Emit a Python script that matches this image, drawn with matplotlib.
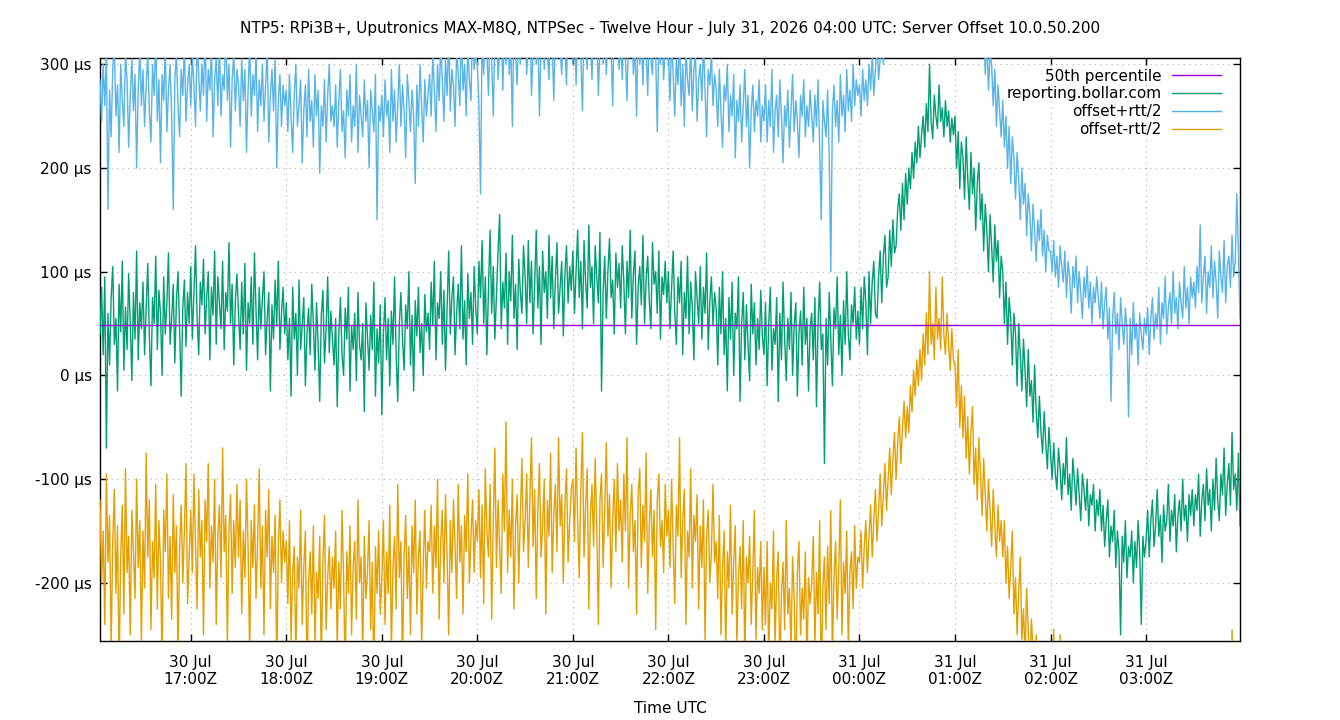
import numpy as np
import pandas as pd
import matplotlib
matplotlib.use("Agg")
import matplotlib.pyplot as plt
import matplotlib.dates as mdates

# one sample per minute from 16:03, one row per half hour
start_time = "2026-07-30 16:03"
percentile_50 = 49

offset = [
    40, 85, 20, 95, -70, 60, 10, 75, 105, 30, 55, -15, 88, 42, 110, 5, 66, 25, 98, 50, -5, 80, 35, 120, 15, 70, 45,
    90, 20, 65, 108, 38, -10, 75, 50, 115, 25, 82, 60, 0, 95, 40, 70, 118, 30, 55, 88, 12, 72, 100, 45, -20, 65, 92, 28, 80, 50,
    105, 35, 80, 125, 55, 20, 90, 68, 112, 40, 75, 100, 15, 85, 58, 120, 30, 95, 70, 45, 110, 25, 80, 62, 128, 50, 88, 10, 72, 98,
    60, 25, 90, 40, 108, 5, 70, 50, 95, 30, 118, 62, 15, 85, 45, 75, 100, 20, 55, 80, -15, 68, 35, 92, 48, 110, 25, 60, 85, 40,
    70, 15, 55, -20, 85, 35, 60, 0, 92, 25, 48, 75, -10, 40, 65, 20, 88, 50, 5, 70, 30, -25, 58, 82, 12, 45, 95, 22, 62, 35,
    10, 55, -30, 40, 75, 20, 0, 65, 35, 85, -15, 48, 25, 60, -5, 80, 30, 15, 50, -35, 70, 38, 5, 58, 25, 90, -20, 45, 12, 68,
    -38, 40, 75, 15, 55, -10, 62, 30, 95, 20, -25, 50, 80, 35, 5, 68, 45, 100, 10, 58, -15, 72, 38, 85, 22, 50, 0, 78, 42, 60,
    25, 90, 48, 110, 15, 70, 55, 100, 30, 82, 5, 65, 120, 40, 75, 95, 20, 60, 88, 45, 125, 35, 72, 10, 98, 55, 80, 30, 105, 65,
    40, 110, 75, 130, 50, 95, 20, 85, 140, 60, 105, 35, 78, 120, 155, 45, 90, 65, 118, 30, 100, 72, 135, 55, 88, 25, 112, 80, 60, 125,
    95, 50, 130, 70, 110, 40, 88, 140, 65, 105, 30, 120, 80, 100, 55, 135, 75, 115, 45, 92, 128, 60, 85, 110, 38, 98, 125, 70, 105, 82,
    120, 60, 100, 140, 75, 110, 45, 130, 90, 65, 145, 85, 105, 50, 125, 95, 70, 138, -15, 80, 115, 55, 100, 132, 75, 92, 40, 118, 85, 108,
    65, 125, 90, 40, 110, 75, 140, 55, 98, 120, 30, 85, 105, 68, 135, 50, 92, 115, 72, 45, 128, 88, 100, 60, 120, 35, 95, 78, 110, 70,
    100, 45, 85, 120, 60, 30, 95, 70, 110, 20, 80, 55, 115, 40, 90, 65, 15, 100, 75, 50, 105, 35, 85, 60, 118, 25, 72, 95, 48, 80,
    65, 10, 85, 40, 100, 20, 55, -15, 75, 35, 90, 0, 60, 45, 95, -25, 50, 80, 15, 68, 30, -5, 88, 40, 70, 10, 55, 25, 82, 38,
    20, 70, -10, 50, 85, 5, 45, 30, 75, -25, 60, 15, 90, 35, -5, 55, 25, 80, 0, 48, 70, -20, 40, 62, 10, 85, 30, 55, -15, 45,
    60, 15, 75, -30, 50, 90, 25, 40, -85, 55, 10, 80, 35, -10, 65, 45, 95, 20, 58, 0, 72, 30, 100, 40, 15, 68, 50, 85, 35, 62,
    30, 85, 45, 95, 70, 20, 100, 50, 90, 110, 60, 55, 95, 120, 70, 115, 135, 85, 95, 140, 105, 150, 118, 125, 160, 175, 140, 185, 150, 195,
    165, 200, 180, 215, 190, 225, 205, 240, 210, 232, 250, 220, 262, 235, 300, 245, 228, 270, 250, 238, 280, 245, 258, 230, 265, 240, 255, 225, 248, 232,
    250, 200, 235, 180, 225, 210, 170, 230, 190, 160, 215, 175, 200, 140, 185, 205, 150, 175, 120, 165, 140, 100, 155, 125, 90, 145, 110, 130, 75, 115,
    100, 50, 90, 30, 75, 55, 10, 60, 40, -10, 50, 20, -15, 35, 5, -30, 25, -20, -5, -45, 10, -35, -60, -20, -55, -75, -35, -65, -90, -50,
    -75, -100, -65, -95, -110, -70, -90, -120, -85, -105, -60, -115, -95, -130, -80, -100, -125, -90, -115, -140, -95, -110, -130, -100, -145, -115, -125, -105, -150, -120,
    -135, -110, -150, -125, -165, -140, -120, -175, -145, -160, -130, -185, -150, -170, -250, -155, -180, -140, -195, -165, -175, -150, -200, -160, -185, -140, -170, -240, -155, -175,
    -160, -130, -175, -140, -120, -165, -145, -110, -155, -135, -180, -125, -150, -140, -105, -160, -130, -145, -115, -170, -135, -120, -150, -100, -140, -125, -160, -115, -135, -110,
    -145, -115, -130, -95, -155, -120, -105, -140, -90, -125, -110, -150, -100, -130, -80, -120, -140, -95, -115, -70, -135, -105, -85, -125, -55, -110, -95, -130, -75, -145,
]

offset_plus = [
    285, 245, 300, 260, 310, 160, 275, 230, 295, 320, 250, 280, 215, 300, 265, 240, 310, 285, 220, 270, 305, 255, 290, 200, 275, 315, 260,
    295, 240, 280, 310, 255, 225, 300, 270, 330, 245, 285, 205, 290, 265, 315, 235, 275, 300, 250, 160, 285, 310, 260, 230, 295, 270, 320, 245, 280, 300,
    260, 310, 280, 240, 325, 290, 255, 300, 270, 335, 245, 295, 275, 315, 230, 285, 305, 260, 320, 250, 290, 275, 340, 265, 300, 220, 285, 310, 255, 295,
    280, 240, 305, 265, 295, 215, 275, 320, 250, 290, 270, 310, 235, 285, 260, 300, 245, 280, 315, 225, 270, 295, 255, 305, 200, 265, 290, 240, 280, 260,
    275, 235, 290, 250, 215, 270, 300, 240, 260, 285, 205, 255, 280, 230, 295, 245, 265, 220, 290, 250, 275, 195, 260, 240, 285, 225, 270, 300, 245, 260,
    240, 280, 220, 265, 295, 235, 255, 210, 275, 250, 290, 225, 260, 240, 300, 215, 270, 250, 230, 285, 245, 265, 200, 275, 255, 235, 290, 150, 260, 245,
    270, 230, 285, 250, 265, 215, 295, 245, 275, 225, 260, 300, 240, 280, 255, 210, 290, 265, 235, 275, 250, 185, 280, 240, 300, 260, 225, 285, 250, 270,
    290, 250, 310, 275, 235, 300, 265, 320, 285, 245, 305, 270, 330, 255, 295, 280, 240, 315, 290, 260, 335, 275, 300, 250, 320, 285, 265, 340, 295, 310,
    300, 260, 175, 330, 290, 350, 310, 270, 340, 305, 250, 325, 360, 285, 315, 345, 275, 330, 300, 365, 290, 320, 240, 350, 310, 280, 335, 300, 370, 325,
    340, 290, 325, 355, 270, 315, 345, 300, 330, 250, 320, 360, 295, 340, 310, 285, 350, 325, 265, 335, 305, 370, 315, 290, 345, 320, 280, 355, 310, 330,
    300, 345, 280, 330, 360, 310, 255, 340, 320, 295, 365, 325, 285, 350, 305, 335, 270, 320, 355, 300, 340, 290, 330, 375, 315, 260, 345, 310, 335, 295,
    330, 285, 345, 305, 265, 335, 310, 355, 290, 320, 250, 340, 300, 325, 280, 350, 315, 270, 335, 305, 290, 345, 310, 235, 325, 300, 340, 285, 320, 305,
    310, 265, 325, 290, 250, 305, 280, 330, 260, 300, 240, 315, 285, 270, 320, 255, 295, 310, 245, 285, 300, 265, 325, 275, 230, 295, 280, 310, 260, 290,
    275, 240, 295, 255, 220, 280, 265, 300, 235, 270, 250, 290, 210, 265, 245, 280, 225, 260, 295, 240, 270, 200, 255, 280, 235, 265, 250, 285, 225, 260,
    245, 280, 225, 265, 240, 295, 215, 255, 270, 230, 285, 250, 205, 260, 240, 275, 220, 255, 290, 235, 265, 245, 210, 270, 250, 285, 230, 260, 240, 275,
    250, 225, 270, 240, 285, 220, 150, 265, 245, 230, 275, 210, 100, 255, 280, 240, 265, 225, 290, 250, 270, 235, 295, 255, 275, 245, 300, 260, 285, 270,
    280, 250, 295, 265, 285, 260, 300, 275, 310, 270, 295, 320, 285, 305, 330, 300, 345, 320, 340, 360, 335, 370, 350, 380, 360, 395, 375, 405, 390, 415,
    420, 435, 425, 445, 430, 450, 440, 460, 445, 465, 455, 470, 460, 475, 465, 480, 470, 475, 465, 480, 470, 475, 460, 470, 465, 460, 470, 455, 465, 450,
    460, 430, 455, 420, 445, 400, 430, 390, 415, 370, 400, 355, 385, 340, 370, 325, 350, 310, 340, 290, 325, 275, 310, 300, 260, 295, 240, 280, 255, 230,
    265, 220, 250, 200, 240, 185, 230, 210, 170, 215, 190, 150, 200, 165, 185, 135, 175, 155, 120, 165, 140, 110, 150, 130, 160, 115, 140, 100, 135, 120,
    120, 100, 130, 95, 115, 85, 125, 105, 90, 120, 75, 110, 95, 60, 105, 85, 115, 70, 100, 80, 55, 95, 75, 105, 65, 90, 50, 85, 70, 95,
    75, 55, 90, 45, 70, 85, 35, 65, -25, 55, 80, 40, 60, 25, 75, 50, 30, 65, 45, -40, 55, 20, 70, 35, 50, 10, 60, 40, 25, 55,
    40, 65, 20, 55, 75, 35, 60, 45, 85, 30, 70, 55, 95, 40, 65, 80, 50, 100, 60, 75, 45, 90, 70, 55, 105, 65, 85, 50, 95, 75,
    90, 65, 105, 80, 145, 70, 95, 115, 60, 100, 85, 125, 75, 110, 90, 55, 120, 95, 80, 130, 70, 105, 115, 85, 135, 95, 110, 175, 120, 55,
]

offset_minus = [
    -120, -200, -150, -240, -95, -180, -135, -265, -160, -110, -210, -145, -285, -175, -125, -230, -90, -190, -155, -250, -130, -170, -215, -100, -185, -140, -260,
    -150, -205, -75, -175, -120, -245, -160, -195, -105, -225, -140, -180, -280, -130, -170, -95, -215, -155, -235, -115, -190, -145, -270, -165, -125, -200, -150, -85, -220, -175,
    -130, -190, -95, -165, -225, -110, -175, -140, -250, -120, -160, -85, -205, -145, -180, -100, -240, -155, -125, -195, -70, -170, -135, -260, -150, -115, -210, -140, -185, -105,
    -175, -120, -230, -150, -195, -100, -165, -270, -140, -185, -125, -215, -160, -90, -205, -145, -250, -130, -175, -110, -225, -155, -190, -135, -290, -165, -120, -200, -150, -180,
    -160, -220, -140, -255, -190, -165, -275, -175, -205, -130, -240, -185, -150, -295, -200, -170, -230, -145, -260, -190, -215, -155, -280, -180, -135, -245, -195, -165, -225, -175,
    -205, -150, -265, -180, -225, -130, -195, -290, -170, -210, -145, -250, -185, -160, -235, -120, -200, -175, -270, -155, -215, -190, -140, -245, -180, -300, -165, -210, -150, -230,
    -195, -140, -240, -170, -210, -125, -265, -185, -155, -225, -105, -195, -160, -280, -175, -135, -215, -165, -250, -145, -190, -120, -230, -175, -150, -260, -185, -130, -205, -160,
    -170, -125, -210, -145, -185, -100, -235, -160, -130, -200, -115, -175, -250, -140, -190, -120, -165, -215, -105, -180, -145, -230, -135, -170, -95, -200, -155, -120, -190, -140,
    -160, -110, -195, -125, -220, -90, -150, -175, -105, -235, -140, -70, -185, -120, -165, -210, -95, -150, -45, -190, -130, -175, -100, -225, -145, -115, -200, -135, -80, -170,
    -140, -95, -185, -120, -60, -165, -110, -215, -130, -85, -175, -145, -100, -230, -120, -155, -75, -190, -135, -105, -170, -60, -145, -115, -200, -125, -90, -180, -140, -110,
    -100, -160, -70, -140, -195, -110, -55, -175, -125, -90, -225, -135, -105, -165, -80, -145, -240, -120, -95, -185, -130, -65, -155, -115, -205, -140, -100, -170, -85, -150,
    -120, -180, -95, -150, -60, -205, -135, -105, -170, -140, -230, -115, -90, -185, -125, -160, -75, -210, -145, -110, -175, -130, -245, -120, -95, -165, -140, -190, -105, -155,
    -130, -185, -100, -165, -220, -125, -155, -60, -195, -140, -110, -240, -150, -175, -90, -205, -135, -160, -115, -225, -145, -185, -120, -255, -155, -130, -200, -170, -105, -180,
    -160, -215, -135, -250, -185, -150, -270, -170, -205, -125, -230, -180, -145, -260, -195, -165, -225, -140, -280, -175, -200, -155, -240, -190, -130, -255, -185, -210, -160, -245,
    -185, -240, -160, -275, -200, -225, -150, -260, -195, -170, -290, -210, -180, -245, -140, -230, -205, -265, -175, -215, -300, -190, -160, -250, -205, -235, -170, -280, -195, -220,
    -200, -155, -260, -190, -230, -140, -310, -205, -175, -245, -165, -220, -130, -270, -195, -160, -235, -185, -120, -250, -180, -210, -150, -265, -190, -170, -225, -145, -205, -175,
    -180, -150, -205, -165, -140, -190, -155, -125, -175, -140, -110, -160, -130, -95, -145, -115, -85, -130, -100, -70, -115, -80, -55, -100, -65, -40, -85, -50, -25, -60,
    -30, -55, -10, -35, 5, -20, 15, -10, 25, -5, 40, 10, 60, 20, 100, 30, 50, 15, 85, 35, 55, 25, 95, 40, 20, 60, 30, 5, 45, 15,
    10, -30, 25, -50, -10, -60, -20, -80, -40, -95, -55, -30, -105, -70, -120, -60, -95, -135, -80, -115, -150, -100, -130, -165, -110, -145, -175, -125, -160, -140,
    -175, -140, -200, -165, -215, -185, -150, -230, -195, -250, -210, -175, -255, -225, -270, -205, -245, -285, -235, -265, -300, -250, -280, -310, -260, -295, -320, -270, -305, -330,
    -280, -310, -245, -320, -295, -335, -250, -315, -340, -300, -325, -350, -310, -335, -360, -320, -345, -330, -365, -340, -350, -375, -335, -360, -345, -380, -355, -370, -340, -365,
    -375, -350, -390, -365, -380, -400, -360, -385, -410, -370, -395, -380, -415, -375, -400, -390, -420, -385, -405, -395, -410, -380, -400, -425, -390, -405, -385, -410, -395, -400,
    -385, -405, -370, -395, -380, -360, -400, -375, -390, -355, -385, -370, -395, -365, -380, -350, -375, -390, -360, -370, -345, -380, -365, -355, -375, -340, -365, -350, -370, -345,
    -360, -335, -355, -340, -365, -330, -350, -345, -320, -355, -335, -345, -325, -350, -330, -340, -315, -345, -325, -335, -310, -340, -320, -330, -245, -315, -335, -260, -305, -325,
]


def minutes(values):
    return pd.date_range(start_time, periods=len(values), freq="1min")


fig = plt.figure(figsize=(13.4, 7.2), dpi=100)
ax = fig.add_axes([100 / 1340, 1 - 641 / 720, 1140 / 1340, 583 / 720])

ax.plot(minutes(offset), offset, color="#009e73", lw=1.0, label="reporting.bollar.com", zorder=3)
ax.plot(minutes(offset_plus), offset_plus, color="#56b4e9", lw=1.0, label="offset+rtt/2", zorder=4)
ax.plot(minutes(offset_minus), offset_minus, color="#e69f00", lw=1.0, label="offset-rtt/2", zorder=4)
ax.axhline(percentile_50, color="#9400d3", lw=1.0, label="50th percentile", zorder=5)

t = minutes(offset)
ax.set_xlim(t[0], t[-1])
ax.set_ylim(-256, 306)

ax.set_yticks([-200, -100, 0, 100, 200, 300])
ax.yaxis.set_major_formatter(plt.FuncFormatter(lambda v, p: f"{v:.0f} µs"))
ax.xaxis.set_major_locator(mdates.HourLocator())
ax.xaxis.set_major_formatter(mdates.DateFormatter("%d %b\n%H:%MZ"))

ax.tick_params(direction="in", length=5, width=1, labelsize=11, top=True, right=True)
ax.tick_params(axis="x", pad=10)
ax.tick_params(axis="y", pad=6)
ax.grid(True, color="#b0b0b0", lw=0.8, linestyle=(0, (1, 4)))
for s in ax.spines.values():
    s.set_linewidth(1.0)

ax.set_xlabel("Time UTC", fontsize=11, labelpad=10)
fig.text(0.5, 1 - 28 / 720, "NTP5: RPi3B+, Uputronics MAX-M8Q, NTPSec - Twelve Hour - July 31, 2026 04:00 UTC: Server Offset 10.0.50.200",
         ha="center", va="center", fontsize=11)

h, l = ax.get_legend_handles_labels()
order = [3, 0, 1, 2]
leg = ax.legend([h[i] for i in order], [l[i] for i in order], loc="upper right", frameon=False,
                markerfirst=False, fontsize=11, handlelength=3.2, handletextpad=0.7,
                labelspacing=0.18, borderaxespad=0.3, bbox_to_anchor=(0.993, 1.0))
leg.set_zorder(2)

fig.savefig("out.png", dpi=100)
